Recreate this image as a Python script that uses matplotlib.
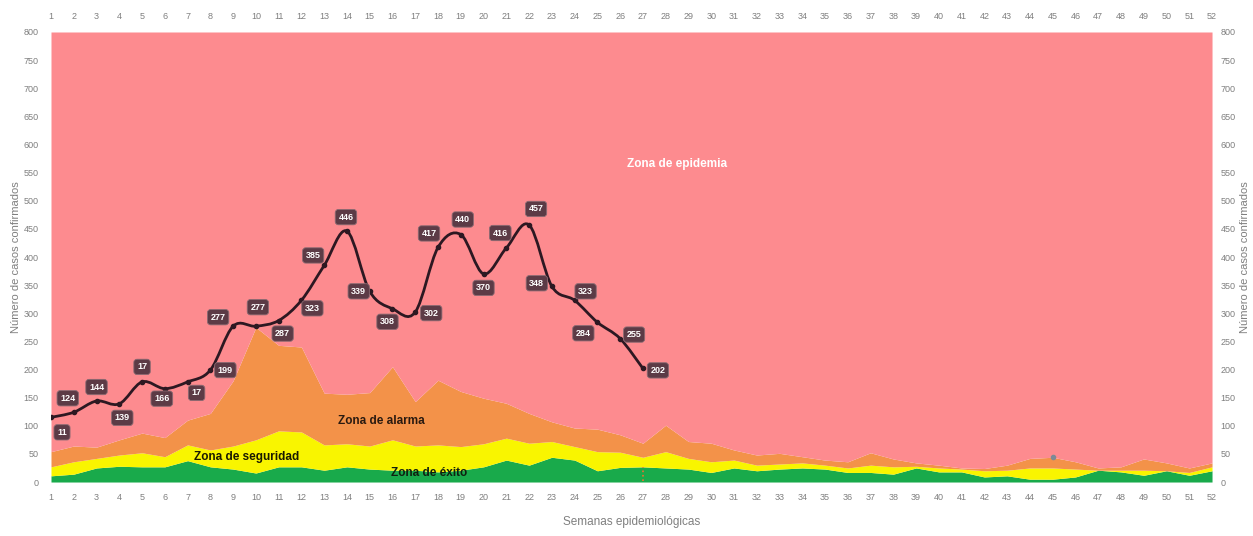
import numpy as np
import matplotlib
matplotlib.use("Agg")
import matplotlib.pyplot as plt
from matplotlib.path import Path
from matplotlib.patches import PathPatch

plt.rcParams['font.family'] = ['Liberation Sans', 'DejaVu Sans']

# semanas epidemiologicas
semanas = list(range(1, 53))

# limites superiores de cada zona (canal endemico, acumulado)
zona_exito = [11, 14, 25, 28, 27, 27, 38, 27, 23, 16, 27, 27, 21, 27, 23, 21, 21, 18,
              21, 27, 39, 30, 44, 39, 20, 26, 27, 25, 23, 17, 25, 20, 23, 25, 23, 17,
              17, 14, 25, 18, 18, 9, 11, 5, 5, 9, 21, 18, 12, 20, 12, 20]
zona_seguridad = [27, 36, 42, 48, 52, 45, 66, 57, 64, 75, 91, 89, 66, 68, 64, 75, 64, 66,
                  63, 68, 78, 69, 72, 63, 54, 53, 44, 54, 42, 36, 39, 30, 32, 34, 30, 25,
                  30, 27, 28, 25, 23, 20, 21, 25, 25, 23, 21, 21, 21, 20, 17, 27]
zona_alarma = [54, 64, 62, 75, 87, 79, 110, 122, 180, 275, 243, 240, 158, 156, 159, 205, 143, 181,
               161, 149, 140, 122, 107, 96, 94, 84, 69, 101, 72, 69, 57, 48, 51, 45, 39, 36,
               52, 41, 34, 30, 25, 24, 30, 42, 44, 36, 25, 27, 41, 34, 25, 34]
tope_epidemia = 800

# casos confirmados 2020 (semanas 1-27)
semanas_casos = list(range(1, 28))
casos = [115, 124, 144, 139, 178, 166, 178, 199, 277, 277, 287, 323, 385, 446, 339, 308,
         302, 417, 440, 370, 416, 457, 348, 323, 284, 255, 202]
etiquetas = ["11", "124", "144", "139", "17", "166", "17", "199", "277", "277", "287", "323",
             "385", "446", "339", "308", "302", "417", "440", "370", "416", "457", "348",
             "323", "284", "255", "202"]
# desplazamiento de cada etiqueta (pixeles)
desp = [(11, -15), (-6, 14), (0, 14), (3, -14), (0, 15), (-3, -10), (9, -11), (15, 0),
        (-15, 9), (2, 19), (4, -13), (11, -8), (-11, 10), (-1, 14), (-11, 0), (-5, -13),
        (16, -1), (-9, 14), (2, 15), (0, -14), (-6, 15), (7, 16), (-15, 3), (11, 9),
        (-14, -11), (14, 4), (15, -2)]

c_verde = '#19aa4b'
c_amarillo = '#f9f500'
c_naranja = '#f39249'
c_rosa = '#fd8b8f'
c_linea = '#2d1822'
c_caja = '#5c3b46'
c_gris = '#7f7f7f'

fig = plt.figure(figsize=(12.53, 5.36), dpi=100)
ax = fig.add_axes([0.0407, 0.1007, 0.9266, 0.8396])

x = np.array(semanas)
ex = np.array(zona_exito)
se = np.array(zona_seguridad)
al = np.array(zona_alarma)
ax.fill_between(x, 0, ex, color=c_verde, lw=0)
ax.fill_between(x, ex, se, color=c_amarillo, lw=0)
ax.fill_between(x, se, al, color=c_naranja, lw=0)
ax.fill_between(x, al, tope_epidemia, color=c_rosa, lw=0)

# linea suavizada (estilo Excel) con curvas Bezier
px = np.array(semanas_casos, dtype=float)
py = np.array(casos, dtype=float)
pts = np.column_stack([px, py])
verts = [pts[0]]
codes = [Path.MOVETO]
n = len(pts)
for i in range(n - 1):
    p0 = pts[i - 1] if i > 0 else pts[i]
    p1 = pts[i]
    p2 = pts[i + 1]
    p3 = pts[i + 2] if i + 2 < n else pts[i + 1]
    c1 = p1 + (p2 - p0) / 6.0
    c2 = p2 - (p3 - p1) / 6.0
    verts += [c1, c2, p2]
    codes += [Path.CURVE4] * 3
ax.add_patch(PathPatch(Path(verts, codes), fc='none', ec=c_linea, lw=2, zorder=4))
ax.plot(px, py, 'o', color=c_linea, ms=3, zorder=5)

for s, v, t, d in zip(semanas_casos, casos, etiquetas, desp):
    ax.annotate(t, (s, v), xytext=d, textcoords='offset pixels', ha='center', va='center',
                fontsize=6.5, fontweight='bold', color='white', zorder=6,
                bbox=dict(boxstyle='round,pad=0.35', fc=c_caja, ec='#8a6a72', lw=0.6))

# marcas sueltas
ax.plot([45], [45], 'o', color='#7d8a96', ms=3, zorder=5)
ax.plot([27, 27], [2, 26], ':', color='#f07030', lw=1.2, zorder=5)

ax.text(28.5, 565, 'Zona de epidemia', color='white', fontsize=8.5, fontweight='bold',
        ha='center', va='center')
ax.text(15.5, 108, 'Zona de alarma', color='#2a1a10', fontsize=8.5, fontweight='bold',
        ha='center', va='center')
ax.text(9.6, 45, 'Zona de seguridad', color='#1a1a00', fontsize=8.5, fontweight='bold',
        ha='center', va='center')
ax.text(17.6, 16, 'Zona de éxito', color='#102010', fontsize=8.5, fontweight='bold',
        ha='center', va='center')

ax.set_xlim(1, 52)
ax.set_ylim(0, 800)
ax.set_xticks(semanas)
ax.set_yticks(range(0, 801, 50))
ax.tick_params(axis='both', length=0, labelsize=6.5, labelcolor=c_gris)
ax.tick_params(axis='x', top=False, labeltop=True, pad=8)
ax.tick_params(axis='y', pad=9)
for sp in ax.spines.values():
    sp.set_visible(False)
ax.set_xlabel('Semanas epidemiológicas', color=c_gris, fontsize=8.5, labelpad=10)
ax.set_ylabel('Número de casos confirmados', color=c_gris, fontsize=8, labelpad=2)

ax2 = ax.twinx()
ax2.set_ylim(0, 800)
ax2.set_yticks(range(0, 801, 50))
ax2.tick_params(axis='y', length=0, labelsize=6.5, labelcolor=c_gris, pad=6)
for sp in ax2.spines.values():
    sp.set_visible(False)
ax2.set_ylabel('Número de casos confirmados', color=c_gris, fontsize=8, labelpad=3)

fig.savefig('out.png', dpi=100, facecolor='white')
